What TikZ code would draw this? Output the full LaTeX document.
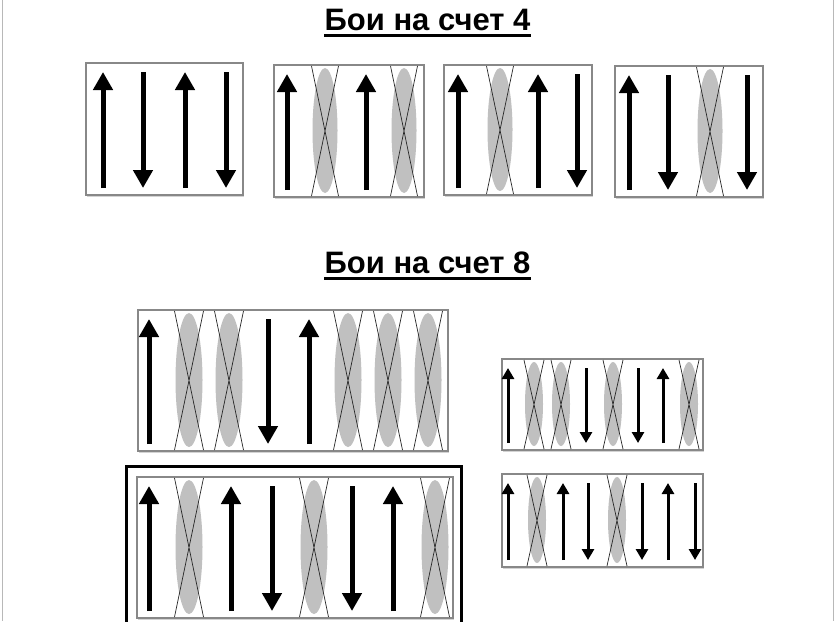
\documentclass[tikz,border=0pt]{standalone}
\usepackage{fontspec}
\setmainfont{Liberation Sans}
\usetikzlibrary{arrows.meta, shadows}

\definecolor{restgray}{HTML}{C0C0C0}
\definecolor{framegray}{HTML}{888888}

\tikzset{
  box/.style={draw=framegray, line width=1.3pt, fill=white,
    drop shadow={shadow xshift=1pt, shadow yshift=-1.5pt, opacity=.35}},
  beat/.style={line width=5pt, -{Triangle[width=19pt, length=18pt]}},
  small beat/.style={line width=3pt, -{Triangle[width=12pt, length=11pt]}},
  rest/.style={fill=restgray},
  strike/.style={draw=black!85, line width=.7pt},
  heading/.style={font=\bfseries\fontsize{31}{34}\selectfont, inner sep=0pt, anchor=base},
}

% #1 left, #2 top, #3 right, #4 bottom, #5 ups, #6 downs, #7 rests, #8 half width, #9 arrow style
\newcommand{\beatbox}[9]{
  \draw[box] (#1,#2) rectangle (#3,#4);
  \foreach \x in {#7} {
    \fill[rest] (\x, {(#2+#4)/2-0.5}) ellipse [x radius=#8, y radius={(#4-#2)/2-3.5}];
    \draw[strike] ({\x-#8-1}, {#2+1}) -- ({\x+#8+1}, {#4-1}) ({\x+#8+1}, {#2+1}) -- ({\x-#8-1}, {#4-1});
  }
  \foreach \x in {#5} \draw[#9] (\x, {#4-7}) -- (\x, {#2+9});
  \foreach \x in {#6} \draw[#9] (\x, {#2+9}) -- (\x, {#4-7});
}

\begin{document}
\begin{tikzpicture}[x=1pt, y=-1pt]
  \useasboundingbox (0,0) rectangle (835,621);
  \draw[framegray!60, line width=1pt] (2,0) -- (2,621) (833,0) -- (833,621);

  \node (title four) [heading] at (427.5,30) {Бои на счет 4};
  \draw[line width=3pt] ([yshift=-5.5pt]title four.base west) -- ([yshift=-5.5pt]title four.base east);

  % four counts
  \beatbox{86}{63}{243}{195}{103,185}{143,226}{}{12.5}{beat}
  \beatbox{274}{65}{424}{197}{287,366}{}{325,404}{12.5}{beat}
  \beatbox{444}{65}{592}{195}{458,538}{577}{500}{12.5}{beat}
  \beatbox{615}{66}{763}{197}{629}{668,747}{710}{12.5}{beat}

  \node (title eight) [heading] at (427.5,273) {Бои на счет 8};
  \draw[line width=3pt] ([yshift=-5.5pt]title eight.base west) -- ([yshift=-5.5pt]title eight.base east);

  % eight counts
  \beatbox{138}{310}{448}{451}{149,309}{268}{189,229,348,388,428}{13.5}{beat}
  \draw[line width=3pt] (126.5,466.5) rectangle (461.5,640);
  \beatbox{137}{477}{453}{618}{149,231,393}{272,352}{189,314,435}{13.5}{beat}
  \beatbox{502}{359}{703}{450}{508,663}{586,638}{534,561,613,689}{9}{small beat}
  \beatbox{502}{474}{703}{567}{508,563,668}{588,642,695}{537,617}{9}{small beat}
\end{tikzpicture}
\end{document}
